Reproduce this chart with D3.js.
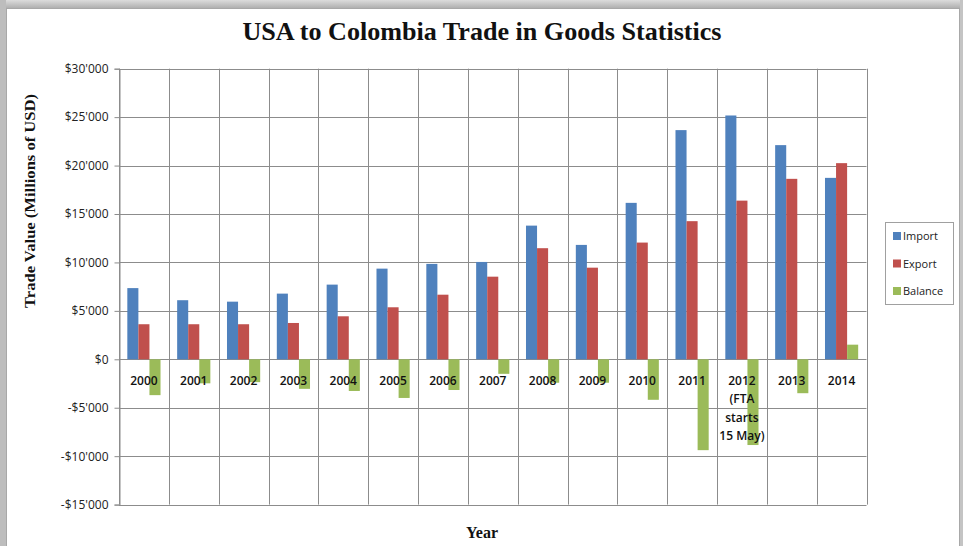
<!DOCTYPE html>
<html>
<head>
<meta charset="utf-8">
<script src="https://cdn.jsdelivr.net/npm/d3@7"></script>
<style>
  html, body { margin: 0; padding: 0; background: #ffffff; }
  svg { display: block; }
</style>
</head>
<body>
<svg id="chart" width="963" height="546"></svg>
<script>
const years = ["2000","2001","2002","2003","2004","2005","2006","2007","2008","2009","2010","2011","2012","2013","2014"];
const yearLabels = [["2000"],["2001"],["2002"],["2003"],["2004"],["2005"],["2006"],["2007"],["2008"],["2009"],["2010"],["2011"],["2012","(FTA","starts","15 May)"],["2013"],["2014"]];
const seriesNames = ["Import","Export","Balance"];
const importValues = [7350, 6100, 5950, 6780, 7710, 9360, 9850, 10050, 13800, 11810, 16150, 23660, 25170, 22110, 18730];
const exportValues = [3620, 3620, 3620, 3750, 4440, 5370, 6670, 8530, 11470, 9460, 12050, 14260, 16380, 18630, 20250];
const balanceValues = [-3700, -2480, -2360, -3050, -3270, -3990, -3170, -1500, -2420, -2420, -4180, -9380, -8850, -3500, 1510];
const yTicks = [-15000, -10000, -5000, 0, 5000, 10000, 15000, 20000, 25000, 30000];
const colors = ["#4F81BD", "#C0504D", "#9BBB59"];
const seriesValues = [importValues, exportValues, balanceValues];

const svg = d3.select("#chart");
const W = 963, H = 546;

// frame / background
const defs = svg.append("defs");
const gTop = defs.append("linearGradient").attr("id","gTop").attr("x1",0).attr("y1",0).attr("x2",0).attr("y2",1);
gTop.append("stop").attr("offset","0%").attr("stop-color","#dcdcdc");
gTop.append("stop").attr("offset","100%").attr("stop-color","#b0b0b0");
svg.append("rect").attr("x",0).attr("y",0).attr("width",W).attr("height",H).attr("fill","#ffffff");
svg.append("rect").attr("x",0).attr("y",0).attr("width",W).attr("height",8).attr("fill","url(#gTop)");
svg.append("rect").attr("x",0).attr("y",0).attr("width",6).attr("height",H).attr("fill","#bdbdbd");
svg.append("rect").attr("x",960).attr("y",0).attr("width",3).attr("height",H).attr("fill","#c4c4c4");
svg.append("line").attr("x1",6.5).attr("x2",6.5).attr("y1",8).attr("y2",H).attr("stroke","#a8a8a8");
svg.append("line").attr("x1",959.5).attr("x2",959.5).attr("y1",8).attr("y2",H).attr("stroke","#a8a8a8");
svg.append("line").attr("x1",6).attr("x2",960).attr("y1",8.5).attr("y2",8.5).attr("stroke","#a8a8a8");

const pLeft = 119, pRight = 866.5, pTop = 68.7, pBottom = 504.6;
const x = d3.scaleBand().domain(years).range([pLeft, pRight]).paddingInner(0).paddingOuter(0);
const y = d3.scaleLinear().domain([-15000, 30000]).range([pBottom, pTop]);
const bw = x.bandwidth();
const barW = bw * 0.222;
const x1 = d3.scaleBand().domain(seriesNames).range([(bw - 3*barW)/2, (bw - 3*barW)/2 + 3*barW]);

// gridlines
const grid = svg.append("g");
grid.selectAll("line.h").data(yTicks).enter().append("line")
  .attr("x1", pLeft).attr("x2", pRight)
  .attr("y1", d => Math.round(y(d)) + 0.5).attr("y2", d => Math.round(y(d)) + 0.5)
  .attr("stroke", "#8c8c8c").attr("stroke-width", 1);
const bounds = years.map(d => x(d)).concat([pRight]);
grid.selectAll("line.v").data(bounds).enter().append("line")
  .attr("x1", d => Math.round(d) + 0.5).attr("x2", d => Math.round(d) + 0.5)
  .attr("y1", pTop).attr("y2", pBottom)
  .attr("stroke", "#8c8c8c").attr("stroke-width", 1);

// y axis
const fmt = d => (d < 0 ? "-" : "") + "$" + d3.format(",")(Math.abs(d)).replace(/,/g, "'");
const yAxis = d3.axisLeft(y).tickValues(yTicks).tickFormat(fmt).tickSize(5).tickPadding(6);
const ya = svg.append("g").attr("transform", `translate(${pLeft + 0.5},0)`).call(yAxis);
ya.select(".domain").attr("stroke", "#8c8c8c");
ya.selectAll(".tick line").attr("stroke", "#8c8c8c");
ya.selectAll(".tick text").attr("fill", "#222").style("font-family", "'Open Sans', sans-serif").style("font-size", "12px");

// bars
const groups = svg.append("g").selectAll("g").data(years).enter().append("g")
  .attr("transform", d => `translate(${x(d)},0)`);
groups.selectAll("rect").data((d, i) => seriesNames.map((s, k) => ({s, k, v: seriesValues[k][i]}))).enter().append("rect")
  .attr("x", d => x1(d.s))
  .attr("width", x1.bandwidth())
  .attr("y", d => y(Math.max(0, d.v)))
  .attr("height", d => Math.abs(y(d.v) - y(0)))
  .attr("fill", d => colors[d.k]);

// category labels
const lab = svg.append("g").selectAll("text").data(years).enter().append("text")
  .attr("x", d => x(d) + bw / 2)
  .attr("y", 385)
  .attr("text-anchor", "middle")
  .style("font-family", "'Open Sans', sans-serif")
  .style("font-size", "12px")
  .style("font-weight", "600")
  .attr("fill", "#111");
lab.each(function(d, i) {
  const t = d3.select(this);
  yearLabels[i].forEach((line, j) => {
    t.append("tspan").attr("x", x(d) + bw / 2).attr("dy", j === 0 ? 0 : 18.3).text(line);
  });
});

// title
svg.append("text").attr("x", 482).attr("y", 40).attr("text-anchor", "middle")
  .attr("textLength", 479).attr("lengthAdjust", "spacingAndGlyphs")
  .style("font-family", "'Liberation Serif', serif").style("font-weight", "bold").style("font-size", "26px")
  .attr("fill", "#111")
  .text("USA to Colombia Trade in Goods Statistics");

// y title
svg.append("text").attr("transform", "translate(35,201) rotate(-90)").attr("text-anchor", "middle")
  .attr("textLength", 214).attr("lengthAdjust", "spacingAndGlyphs")
  .style("font-family", "'Liberation Serif', serif").style("font-weight", "bold").style("font-size", "15px")
  .attr("fill", "#111")
  .text("Trade Value (Millions of USD)");

// x title
svg.append("text").attr("x", 482).attr("y", 538).attr("text-anchor", "middle")
  .style("font-family", "'Liberation Serif', serif").style("font-weight", "bold").style("font-size", "16px")
  .attr("fill", "#111")
  .text("Year");

// legend
const lg = svg.append("g");
lg.append("rect").attr("x", 885.5).attr("y", 222.5).attr("width", 68).attr("height", 82)
  .attr("fill", "#fff").attr("stroke", "#a0a0a0");
seriesNames.forEach((s, k) => {
  const yy = 236 + k * 27.5;
  lg.append("rect").attr("x", 893).attr("y", yy - 4).attr("width", 8).attr("height", 8).attr("fill", colors[k]);
  lg.append("text").attr("x", 903).attr("y", yy + 4)
    .style("font-family", "'Open Sans', sans-serif").style("font-size", "11px").attr("fill", "#222").text(s);
});
</script>
</body>
</html>
